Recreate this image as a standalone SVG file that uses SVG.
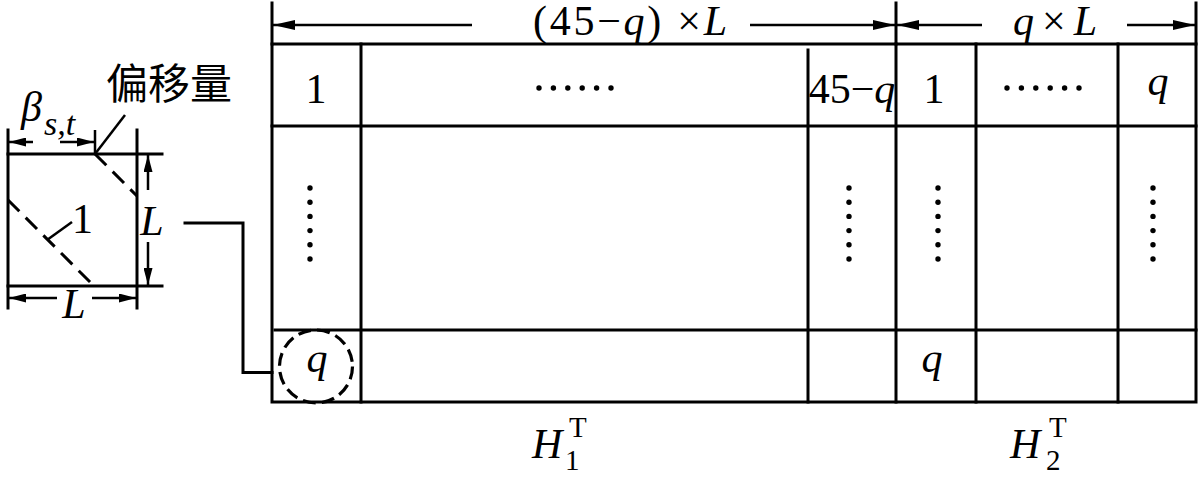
<svg xmlns="http://www.w3.org/2000/svg" width="1200" height="478" viewBox="0 0 1200 478">
<style>
.ln{stroke:#000;stroke-width:3;fill:none;stroke-linecap:square}
.th{stroke:#000;stroke-width:2.5;fill:none}
.ds{stroke:#000;stroke-width:3;fill:none;stroke-dasharray:16 9}
.t{font-family:"Liberation Serif","Times New Roman",serif;font-size:42px;fill:#000}
.i{font-style:italic}
.cjk{font-family:"Noto Sans CJK SC","Liberation Serif",sans-serif;font-size:42px;fill:#000}
.sm{font-size:34px}
.ss{font-size:29px;font-style:normal}
.dot{fill:#000}
</style>
<defs>
<marker id="ah" markerUnits="userSpaceOnUse" markerWidth="22" markerHeight="10" refX="22" refY="5" orient="auto">
<path d="M0,0 L22,5 L0,10 z" fill="#000"/>
</marker>
<marker id="ahs" markerUnits="userSpaceOnUse" markerWidth="17" markerHeight="9" refX="17" refY="4.5" orient="auto">
<path d="M0,0 L17,4.5 L0,9 z" fill="#000"/>
</marker>
<circle id="d" r="2.7" class="dot"/>
</defs>
<rect width="1200" height="478" fill="#fff"/>

<g id="matrix">
<rect x="272" y="44" width="924" height="358" class="ln"/>
<line x1="272" y1="126" x2="1196" y2="126" class="ln"/>
<line x1="275" y1="330" x2="1196" y2="330" class="ln"/>
<line x1="361" y1="44" x2="361" y2="402" class="ln"/>
<line x1="808" y1="50" x2="808" y2="402" class="ln"/>
<line x1="896" y1="44" x2="896" y2="402" class="ln"/>
<line x1="976" y1="44" x2="976" y2="402" class="ln"/>
<line x1="1118" y1="44" x2="1118" y2="402" class="ln"/>
<text x="316" y="103" class="t" text-anchor="middle">1</text>
<text x="852" y="103" class="t" text-anchor="middle">45−<tspan class="i">q</tspan></text>
<text x="934" y="103" class="t" text-anchor="middle">1</text>
<text x="1158" y="95" class="t i" text-anchor="middle">q</text>
<text x="317" y="372" class="t i" text-anchor="middle">q</text>
<text x="932" y="372" class="t i" text-anchor="middle">q</text>
<g id="hdots1">
<use href="#d" x="539" y="88"/><use href="#d" x="553.4" y="88"/><use href="#d" x="567.8" y="88"/><use href="#d" x="582.2" y="88"/><use href="#d" x="596.6" y="88"/><use href="#d" x="611" y="88"/>
</g>
<g id="hdots2">
<use href="#d" x="1007" y="88"/><use href="#d" x="1021.4" y="88"/><use href="#d" x="1035.8" y="88"/><use href="#d" x="1050.2" y="88"/><use href="#d" x="1064.6" y="88"/><use href="#d" x="1079" y="88"/>
</g>
<g id="vdots1">
<use href="#d" x="310" y="188"/><use href="#d" x="310" y="202.2"/><use href="#d" x="310" y="216.4"/><use href="#d" x="310" y="230.6"/><use href="#d" x="310" y="244.8"/><use href="#d" x="310" y="259"/>
</g>
<g id="vdots2">
<use href="#d" x="849" y="188"/><use href="#d" x="849" y="202.2"/><use href="#d" x="849" y="216.4"/><use href="#d" x="849" y="230.6"/><use href="#d" x="849" y="244.8"/><use href="#d" x="849" y="259"/>
</g>
<g id="vdots3">
<use href="#d" x="938" y="188"/><use href="#d" x="938" y="202.2"/><use href="#d" x="938" y="216.4"/><use href="#d" x="938" y="230.6"/><use href="#d" x="938" y="244.8"/><use href="#d" x="938" y="259"/>
</g>
<g id="vdots4">
<use href="#d" x="1153" y="188"/><use href="#d" x="1153" y="202.2"/><use href="#d" x="1153" y="216.4"/><use href="#d" x="1153" y="230.6"/><use href="#d" x="1153" y="244.8"/><use href="#d" x="1153" y="259"/>
</g>
<circle id="highlight" cx="316" cy="366.5" r="36.5" style="stroke:#000;stroke-width:3.2;fill:none;stroke-dasharray:13 6.2"/>
</g>

<g id="dimensions">
<line x1="272" y1="3" x2="272" y2="44" class="ln"/>
<line x1="896" y1="3" x2="896" y2="44" class="ln"/>
<line x1="1196" y1="3" x2="1196" y2="44" class="ln"/>
<line x1="472" y1="25" x2="273" y2="25" class="th" marker-end="url(#ah)"/>
<line x1="750" y1="25" x2="895" y2="25" class="th" marker-end="url(#ah)"/>
<line x1="982" y1="25" x2="897" y2="25" class="th" marker-end="url(#ah)"/>
<line x1="1127" y1="25" x2="1195" y2="25" class="th" marker-end="url(#ah)"/>
<text x="533" y="35" class="t" textLength="194" lengthAdjust="spacing">(45−<tspan class="i">q</tspan>) ×<tspan class="i">L</tspan></text>
<text x="1013" y="35" class="t" textLength="84" lengthAdjust="spacing"><tspan class="i">q</tspan>×<tspan class="i">L</tspan></text>
</g>

<g id="labels">
<text x="532" y="458" class="t i">H<tspan x="565" y="470" class="ss">1</tspan><tspan x="569" y="437" class="ss">T</tspan></text>
<text x="1010" y="458" class="t i">H<tspan x="1046" y="470" class="ss">2</tspan><tspan x="1049" y="437" class="ss">T</tspan></text>
</g>

<g id="block">
<line x1="8" y1="130" x2="8" y2="308" class="ln"/>
<line x1="137" y1="130" x2="137" y2="308" class="ln"/>
<line x1="8" y1="154" x2="162" y2="154" class="ln"/>
<line x1="8" y1="286" x2="162" y2="286" class="ln"/>
<line x1="95" y1="130" x2="95" y2="154" class="th"/>
<line x1="95" y1="154" x2="137" y2="196" class="ds"/>
<line x1="8" y1="200" x2="94" y2="286" class="ds"/>
<line x1="72" y1="222" x2="47" y2="240" class="th"/>
<text x="72" y="233" class="t" font-size="44">1</text>
<line x1="33" y1="142" x2="9" y2="142" class="th" marker-end="url(#ahs)"/>
<line x1="60" y1="142" x2="94" y2="142" class="th" marker-end="url(#ahs)"/>
<text x="21" y="121" class="t i" font-size="46">β</text>
<text x="44" y="135" class="t i sm">s,t</text>
<line x1="148" y1="190" x2="148" y2="155" class="th" marker-end="url(#ahs)"/>
<line x1="148" y1="242" x2="148" y2="285" class="th" marker-end="url(#ahs)"/>
<text x="152" y="235" class="t i" text-anchor="middle" font-size="44">L</text>
<line x1="57" y1="298" x2="9" y2="298" class="th" marker-end="url(#ahs)"/>
<line x1="92" y1="298" x2="136" y2="298" class="th" marker-end="url(#ahs)"/>
<text x="74" y="318" class="t i" text-anchor="middle" font-size="44">L</text>
<line x1="95" y1="154" x2="125" y2="115" class="th"/>
<text x="106" y="99" class="cjk">偏移量</text>
</g>

<g id="connectors">
<polyline points="185,223 243,223 243,372.5 272,372.5" class="ln" stroke-linecap="butt"/>
</g>
</svg>
